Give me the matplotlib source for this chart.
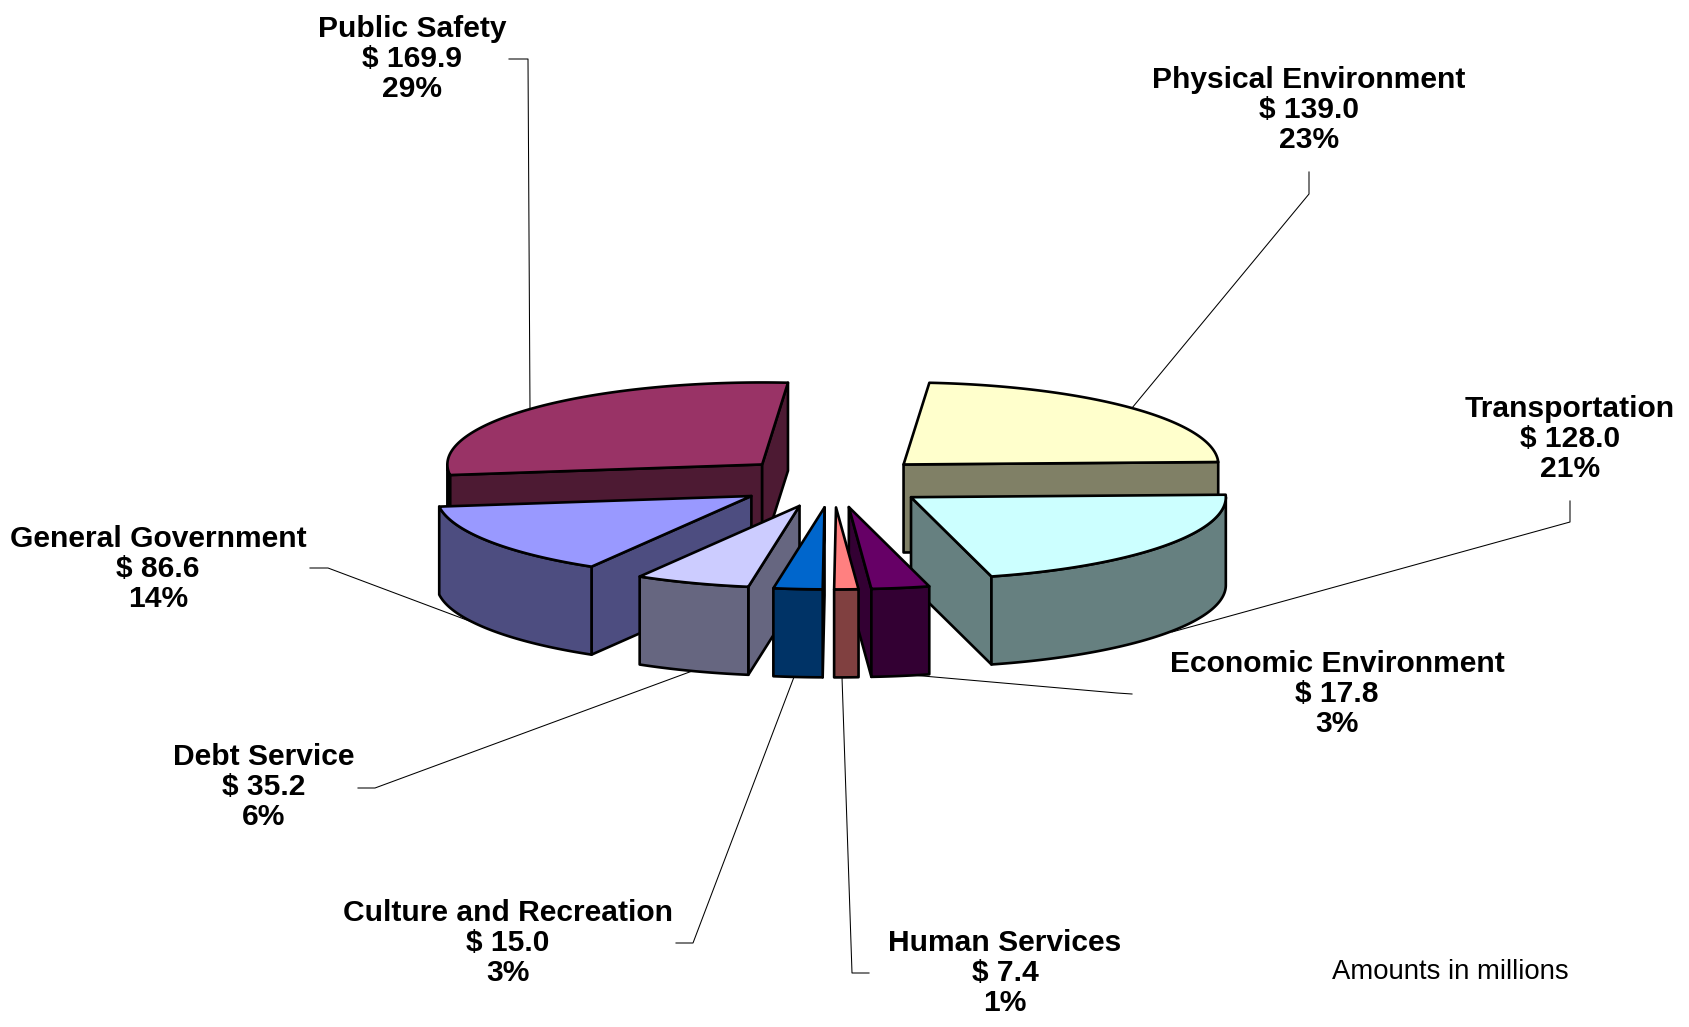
import numpy as np
import matplotlib
matplotlib.use('Agg')
import matplotlib.pyplot as plt
from matplotlib.colors import to_rgb
from matplotlib.patches import Polygon

plt.rcParams['font.family'] = ['Liberation Sans', 'DejaVu Sans']

# clockwise from the top of the pie
categories = ['Physical Environment', 'Transportation', 'Economic Environment', 'Human Services',
              'Culture and Recreation', 'Debt Service', 'General Government', 'Public Safety']
amounts = [139.0, 128.0, 17.8, 7.4, 15.0, 35.2, 86.6, 169.9]
percents = [23, 21, 3, 1, 3, 6, 14, 29]
colors = ['#FFFFCC', '#CCFFFF', '#660066', '#FF8080', '#0066CC', '#CCCCFF', '#9999FF', '#993366']

# back to front
draw_order = [7, 0, 1, 6, 5, 2, 3, 4]

start_angle = 4.7
cx, cy = 832.8, 482.0
rx, ry = 314.8, 82.0
explode = 0.31
depth = 88
edge = 1.9

label_pos = [(1309, 110), (1570, 439), (1337, 694), (1005, 973),
             (508, 943), (264, 787), (158, 569), (412, 59)]
leaders = [
    [(1309, 172), (1309, 194), (1132, 408)],
    [(1570, 501), (1570, 522), (1172, 632)],
    [(900, 674), (1117, 693), (1132, 694)],
    [(842, 677), (852, 973), (869, 973)],
    [(794, 677), (693, 943), (676, 943)],
    [(695, 670), (375, 788), (358, 788)],
    [(310, 568), (328, 568), (480, 625)],
    [(509, 59), (528, 59), (530, 410)],
]


def ring(apex, th):
    th = np.radians(th)
    return np.column_stack([apex[0] + rx * np.sin(th), apex[1] - ry * np.cos(th)])


def face(ax, pts, color, z):
    ax.add_patch(Polygon(pts, closed=True, facecolor=color, edgecolor='black', linewidth=edge,
                         joinstyle='round', zorder=z))


def draw_slice(ax, t0, t1, color, z):
    mid = np.radians((t0 + t1) / 2)
    apex = np.array([cx + explode * rx * np.sin(mid), cy - explode * ry * np.cos(mid)])
    drop = np.array([0, depth])
    wall = np.array(to_rgb(color)) * 0.5

    for th, visible in ((t0, np.sin(np.radians(t0)) < -1e-6), (t1, np.sin(np.radians(t1)) > 1e-6)):
        if visible:
            end = ring(apex, np.array([th]))[0]
            face(ax, [apex, end, end + drop, apex + drop], wall, z)

    a0, a1 = max(t0, 90), min(t1, 270)
    if a1 > a0:
        arc = ring(apex, np.linspace(a0, a1, 80))
        face(ax, np.vstack([arc, arc[::-1] + drop]), wall, z)

    top = ring(apex, np.linspace(t0, t1, 120))
    face(ax, np.vstack([apex, top]), color, z)


fig = plt.figure(figsize=(16.9, 10.27), dpi=100)
ax = fig.add_axes([0, 0, 1, 1])
ax.set_xlim(0, 1690)
ax.set_ylim(1027, 0)
ax.axis('off')

for line in leaders:
    xs, ys = zip(*line)
    ax.plot(xs, ys, color='black', linewidth=0.75, zorder=1)

sweep = np.array(amounts) / np.sum(amounts) * 360
edges = start_angle + np.concatenate([[0], np.cumsum(sweep)])
for z, i in enumerate(draw_order):
    draw_slice(ax, edges[i], edges[i + 1], colors[i], z + 2)

for i, name in enumerate(categories):
    x, y = label_pos[i]
    ax.text(x, y, f'{name}\n$ {amounts[i]:.1f}\n{percents[i]}%', ha='center', va='center',
            ma='center', fontsize=21.6, fontweight='bold', linespacing=1.08, zorder=20)

ax.text(1450, 972, 'Amounts in millions', ha='center', va='center', fontsize=19.8, zorder=20)

fig.savefig('out.png', dpi=100, facecolor='white')
